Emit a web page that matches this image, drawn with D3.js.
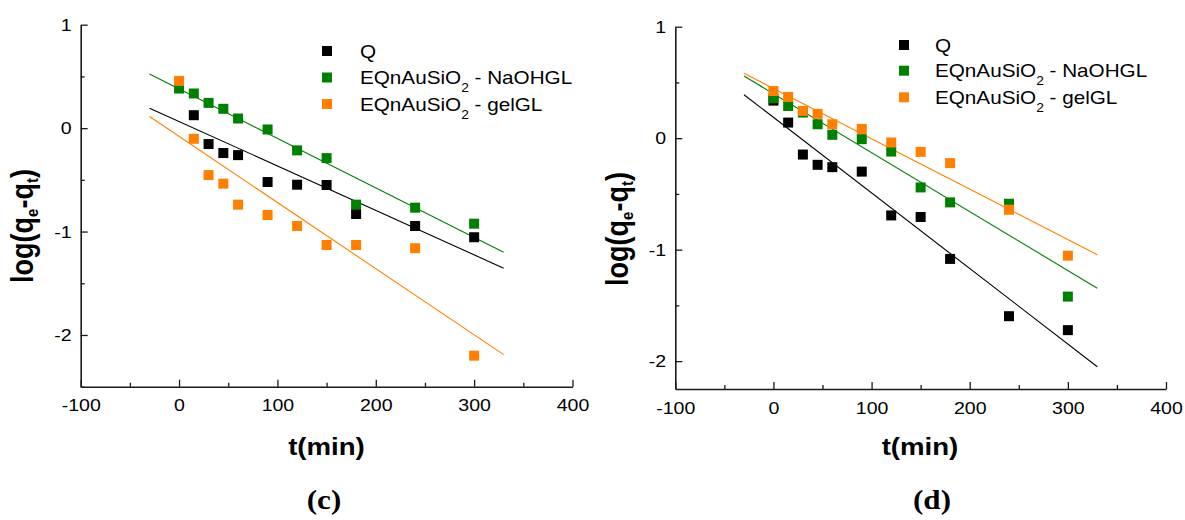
<!DOCTYPE html>
<html><head><meta charset="utf-8">
<script src="https://cdn.jsdelivr.net/npm/d3@7"></script>
<style>
body{margin:0;background:#fff}
svg text{font-family:"Liberation Sans", Arimo, Arial, Helvetica, Roboto, sans-serif;}
svg text.serif{font-family:"Liberation Serif", Tinos, "Times New Roman", Times, serif;}
</style>
</head><body>
<svg id="chart" width="1185" height="520"></svg>
<script>
// ---------- data ----------
const seriesNames = ["Q", "EQnAuSiO2 - NaOHGL", "EQnAuSiO2 - gelGL"];
const legendParts = [["Q"], ["EQnAuSiO", "2", " - NaOHGL"], ["EQnAuSiO", "2", " - gelGL"]];
const seriesColors = ["#000000", "#008000", "#FF8000"];

const xTicks = [-100, 0, 100, 200, 300, 400];
const xMinorTicks = [-50, 50, 150, 250, 350];
const yTicksC = [-2, -1, 0, 1];
const yMinorTicksC = [-2.5, -1.5, -0.5, 0.5];
const yTicksD = [-2, -1, 0, 1];
const yMinorTicksD = [-1.5, -0.5, 0.5];

// panel (c)
const tQc   = [15, 30, 45, 60, 90, 120, 150, 180, 240, 300];
const vQc   = [0.125, -0.154, -0.241, -0.261, -0.521, -0.547, -0.55, -0.83, -0.946, -1.055];
const tNaC  = [0, 15, 30, 45, 60, 90, 120, 150, 180, 240, 300];
const vNaC  = [0.383, 0.335, 0.244, 0.187, 0.093, -0.013, -0.215, -0.29, -0.74, -0.769, -0.924];
const tGelC = [0, 15, 30, 45, 60, 90, 120, 150, 180, 240, 300];
const vGelC = [0.457, -0.103, -0.454, -0.537, -0.740, -0.840, -0.946, -1.13, -1.13, -1.161, -2.20];
// fitted lines: value at t = -30 and t = 330
const fitT   = [-30, 330];
const fitQc   = [0.193, -1.354];
const fitNaC  = [0.523, -1.20];
const fitGelC = [0.112, -2.19];

// panel (d)
const tQd   = [0, 15, 30, 45, 60, 90, 120, 150, 180, 240, 300];
const vQd   = [0.337, 0.14, -0.147, -0.239, -0.26, -0.30, -0.693, -0.707, -1.083, -1.597, -1.722];
const tNaD  = [0, 15, 30, 45, 60, 90, 120, 150, 180, 240, 300];
const vNaD  = [0.358, 0.289, 0.23, 0.125, 0.03, -0.009, -0.12, -0.442, -0.576, -0.588, -1.421];
const tGelD = [0, 15, 30, 45, 60, 90, 120, 150, 180, 240, 300];
const vGelD = [0.423, 0.37, 0.244, 0.218, 0.125, 0.083, -0.039, -0.123, -0.224, -0.642, -1.054];
const fitQd   = [0.39, -2.05];
const fitNaD  = [0.558, -1.346];
const fitGelD = [0.582, -1.045];

const xLabel = "t(min)";
const panelLetters = ["(c)", "(d)"];

// ---------- layout ----------
const SX = 1.15; // horizontal stretch of the original figure
const panels = [
  {
    xr: [80.7, 572.5], yr: [386.7, 24.7], ydom: [-2.5, 1],
    yTicks: yTicksC, yMinor: yMinorTicksC,
    series: [[tQc, vQc, fitQc], [tNaC, vNaC, fitNaC], [tGelC, vGelC, fitGelC]],
    legend: {mx: 327, tx: 360, ys: [51, 77.5, 104]},
    ylab: {x: 33, y: 226}, xlab: {x: 326.5, y: 455}, letter: {x: 324, y: 509}, letterIdx: 0
  },
  {
    xr: [675.3, 1166], yr: [389, 26.7], ydom: [-2.25, 1],
    yTicks: yTicksD, yMinor: yMinorTicksD,
    series: [[tQd, vQd, fitQd], [tNaD, vNaD, fitNaD], [tGelD, vGelD, fitGelD]],
    legend: {mx: 904, tx: 935, ys: [45, 70.7, 97.3]},
    ylab: {x: 628, y: 229}, xlab: {x: 920, y: 455}, letter: {x: 932, y: 509}, letterIdx: 1
  }
];

const svg = d3.select("#chart");
const AX = "#1a1a1a";

panels.forEach(p => {
  const x = d3.scaleLinear().domain([-100, 400]).range(p.xr);
  const y = d3.scaleLinear().domain(p.ydom).range(p.yr);
  const g = svg.append("g");

  // fitted lines
  p.series.forEach((s, i) => {
    const pts = fitT.map((t, k) => [t, s[2][k]]);
    g.append("path")
      .attr("d", d3.line().x(d => x(d[0])).y(d => y(d[1]))(pts))
      .attr("stroke", seriesColors[i]).attr("stroke-width", 1.1).attr("fill", "none");
  });
  // points
  p.series.forEach((s, i) => {
    const pts = s[0].map((t, k) => [t, s[1][k]]);
    g.selectAll(null).data(pts).enter().append("rect")
      .attr("x", d => x(d[0]) - 5).attr("y", d => y(d[1]) - 5)
      .attr("width", 10).attr("height", 10)
      .attr("fill", seriesColors[i]);
  });

  // axes
  const fmt = d => (d < 0 ? "-" + Math.abs(d) : String(d));
  const xAxis = g.append("g").attr("transform", `translate(0,${p.yr[0]})`)
    .call(d3.axisBottom(x).tickValues(xTicks).tickSizeInner(-7).tickSizeOuter(0).tickPadding(12.6).tickFormat(fmt));
  g.append("g").attr("transform", `translate(0,${p.yr[0]})`)
    .call(d3.axisBottom(x).tickValues(xMinorTicks).tickSizeInner(-4).tickSizeOuter(0).tickFormat(""))
    .select(".domain").remove();
  const yAxis = g.append("g").attr("transform", `translate(${p.xr[0]},0)`)
    .call(d3.axisLeft(y).tickValues(p.yTicks).tickSizeInner(-7).tickSizeOuter(0).tickPadding(8).tickFormat(fmt));
  g.append("g").attr("transform", `translate(${p.xr[0]},0)`)
    .call(d3.axisLeft(y).tickValues(p.yMinor).tickSizeInner(-4).tickSizeOuter(0).tickFormat(""))
    .select(".domain").remove();

  g.selectAll(".domain").attr("stroke", AX).attr("stroke-width", 1.6);
  g.selectAll(".tick line").attr("stroke", AX).attr("stroke-width", 1.3);
  [xAxis, yAxis].forEach(a => a.attr("font-family", null).selectAll(".tick text")
    .attr("font-size", 17).attr("fill", "#000")
    .attr("transform", `scale(${SX},1)`));

  // legend
  legendParts.forEach((parts, i) => {
    const ly = p.legend.ys[i];
    g.append("rect").attr("x", p.legend.mx - 5).attr("y", ly - 5)
      .attr("width", 10).attr("height", 10).attr("fill", seriesColors[i]);
    const t = g.append("text")
      .attr("transform", `translate(${p.legend.tx},${ly + 6.5}) scale(${SX},1)`)
      .attr("font-size", 18).attr("fill", "#000");
    parts.forEach((part, k) => {
      if (k === 1) t.append("tspan").attr("font-size", 12).attr("dy", 8).text(part);
      else t.append("tspan").attr("dy", k === 2 ? -8 : 0).text(part);
    });
  });

  // y label log(qe-qt)
  const yl = g.append("text")
    .attr("transform", `translate(${p.ylab.x},${p.ylab.y}) scale(${SX},1) rotate(-90)`)
    .attr("text-anchor", "middle").attr("font-weight", "bold")
    .attr("font-size", 27).attr("fill", "#000");
  yl.append("tspan").text("log(q");
  yl.append("tspan").attr("font-size", 15).attr("dy", 4).text("e");
  yl.append("tspan").attr("dy", -4).text("-q");
  yl.append("tspan").attr("font-size", 15).attr("dy", 4).text("t");
  yl.append("tspan").attr("dy", -4).text(")");

  // x label
  g.append("text")
    .attr("transform", `translate(${p.xlab.x},${p.xlab.y}) scale(${SX},1)`)
    .attr("text-anchor", "middle").attr("font-weight", "bold")
    .attr("font-size", 24).attr("fill", "#000").text(xLabel);

  // panel letter
  g.append("text").attr("class", "serif")
    .attr("transform", `translate(${p.letter.x},${p.letter.y}) scale(${SX},1)`)
    .attr("text-anchor", "middle").attr("font-weight", "bold")
    .attr("font-size", 27).attr("fill", "#000").text(panelLetters[p.letterIdx]);
});
</script>
</body></html>
